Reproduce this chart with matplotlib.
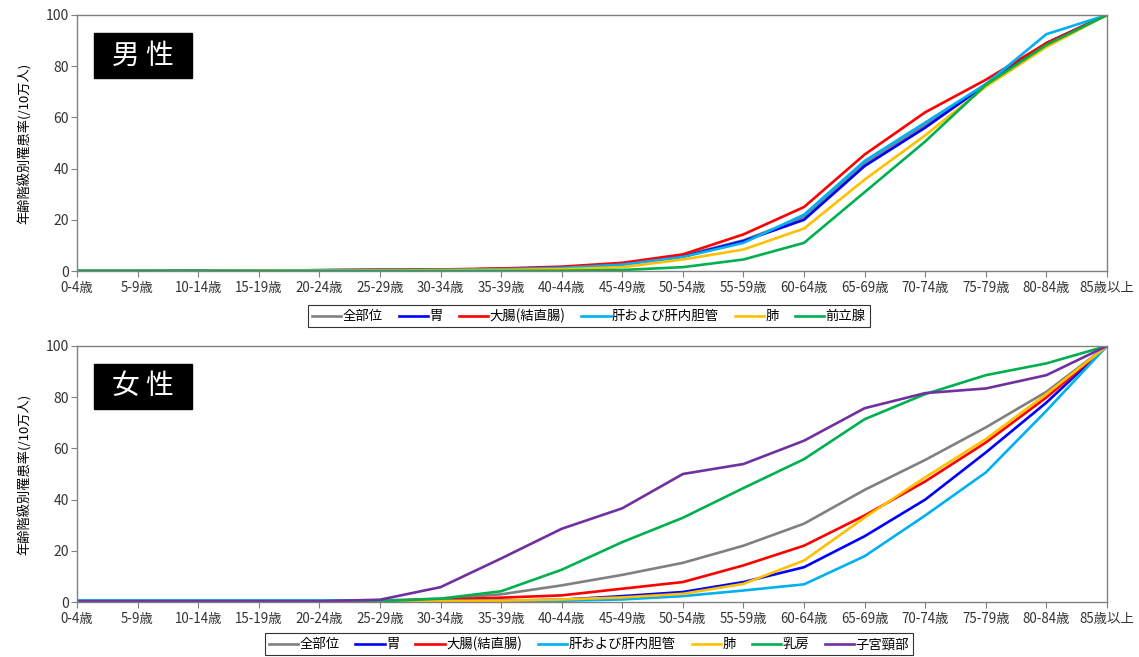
import matplotlib
matplotlib.use('Agg')
from matplotlib import pyplot as plt

plt.rcParams['font.family'] = ['Noto Sans CJK JP', 'DejaVu Sans']

ages = ['0-4歳', '5-9歳', '10-14歳', '15-19歳', '20-24歳', '25-29歳', '30-34歳',
        '35-39歳', '40-44歳', '45-49歳', '50-54歳', '55-59歳', '60-64歳',
        '65-69歳', '70-74歳', '75-79歳', '80-84歳', '85歳以上']

# male
m_all = [0.1, 0.1, 0.1, 0.2, 0.3, 0.4, 0.5, 0.8, 1.4, 2.8, 6.0, 12.0, 21.0, 42.0, 57.0, 73.0, 89.0, 100]
m_stomach = [0.0, 0.0, 0.1, 0.2, 0.3, 0.4, 0.5, 0.8, 1.3, 2.6, 5.6, 11.7, 20.0, 41.0, 56.0, 72.7, 89.0, 100]
m_colon = [0.0, 0.0, 0.1, 0.2, 0.3, 0.5, 0.6, 1.0, 1.7, 3.2, 6.5, 14.3, 25.0, 45.5, 62.0, 74.7, 89.0, 100]
m_liver = [0.1, 0.1, 0.1, 0.2, 0.3, 0.4, 0.5, 0.7, 1.2, 2.5, 5.5, 11.0, 22.0, 43.0, 58.0, 73.0, 92.5, 100]
m_lung = [0.0, 0.0, 0.0, 0.1, 0.1, 0.2, 0.3, 0.4, 0.7, 1.5, 4.5, 8.4, 16.6, 35.7, 53.0, 72.0, 87.5, 100]
m_prostate = [0.0, 0.0, 0.0, 0.0, 0.0, 0.0, 0.0, 0.0, 0.1, 0.4, 1.5, 4.5, 11.0, 30.8, 50.6, 72.7, 88.3, 100]

# female
f_all = [0.4, 0.4, 0.4, 0.4, 0.4, 0.6, 1.3, 3.0, 6.5, 10.6, 15.3, 22.0, 30.6, 43.8, 55.5, 68.2, 82.1, 100]
f_stomach = [0.3, 0.3, 0.3, 0.3, 0.3, 0.3, 0.4, 0.5, 0.9, 2.3, 3.9, 7.8, 13.6, 25.7, 40.0, 58.4, 77.9, 100]
f_colon = [0.3, 0.3, 0.3, 0.3, 0.3, 0.4, 1.0, 1.7, 2.6, 5.2, 7.8, 14.3, 22.0, 33.8, 47.1, 62.3, 79.9, 100]
f_liver = [0.6, 0.6, 0.6, 0.6, 0.6, 0.6, 0.5, 0.5, 0.5, 1.0, 2.3, 4.5, 6.9, 17.9, 33.8, 50.6, 74.7, 100]
f_lung = [0.2, 0.2, 0.2, 0.2, 0.2, 0.2, 0.3, 0.5, 1.0, 1.8, 3.2, 7.1, 16.2, 33.0, 48.7, 63.6, 81.2, 100]
f_breast = [0.3, 0.3, 0.3, 0.3, 0.3, 0.3, 1.3, 4.2, 12.6, 23.4, 32.9, 44.5, 55.8, 71.4, 81.2, 88.6, 93.2, 100]
f_cervix = [0.3, 0.3, 0.3, 0.3, 0.3, 0.9, 5.8, 17.0, 28.6, 36.6, 50.0, 53.9, 63.0, 75.7, 81.6, 83.4, 88.6, 100]

male_names = ['全部位', '胃', '大腸(結直腸)', '肝および肝内胆管', '肺', '前立腺']
female_names = ['全部位', '胃', '大腸(結直腸)', '肝および肝内胆管', '肺', '乳房', '子宮頸部']

male_colors = ['#808080', '#0000ff', '#ff0000', '#00b0f0', '#ffc000', '#00b050']
female_colors = ['#808080', '#0000ff', '#ff0000', '#00b0f0', '#ffc000', '#00b050', '#7030a0']

male_series = [m_all, m_stomach, m_colon, m_liver, m_lung, m_prostate]
female_series = [f_all, f_stomach, f_colon, f_liver, f_lung, f_breast, f_cervix]


def draw_panel(fig, rect, series, names, colors, title, legend_y):
    ax = fig.add_axes(rect)
    x = list(range(len(ages)))
    for vals, name, col in zip(series, names, colors):
        ax.plot(x, vals, color=col, lw=1.9, label=name)
    ax.set_xlim(0, len(ages) - 1)
    ax.set_ylim(0, 100)
    ax.set_yticks([0, 20, 40, 60, 80, 100])
    ax.set_xticks(x)
    ax.set_xticklabels(ages, fontsize=9.6)
    ax.tick_params(axis='y', labelsize=10, length=4, color='#808080', pad=2,
                   labelcolor='#333333')
    ax.tick_params(axis='x', length=4, color='#808080', pad=3, labelcolor='#333333')
    for sp in ax.spines.values():
        sp.set_color('#808080')
        sp.set_linewidth(1.0)
    ax.set_ylabel('年齢階級別罹患率(/10万人)', fontsize=9.5, labelpad=10)
    # black title box
    ax.add_patch(plt.Rectangle((0.0165, 0.754), 0.0952, 0.176, transform=ax.transAxes,
                               facecolor='black', edgecolor='black', zorder=5))
    ax.text(0.064, 0.842, title, transform=ax.transAxes, color='white', fontsize=20,
            ha='center', va='center', zorder=6)
    leg = ax.legend(loc='center', bbox_to_anchor=(0.497, legend_y), ncol=len(names),
                    frameon=True, fancybox=False, fontsize=9.6, handlelength=2.2,
                    handletextpad=0.1, columnspacing=1.2, borderpad=0.3,
                    edgecolor='black')
    leg.get_frame().set_linewidth(0.8)
    return ax


fig = plt.figure(figsize=(11.39, 6.57), dpi=100)
draw_panel(fig, [0.0676, 0.5875, 0.9043, 0.3897], male_series, male_names,
           male_colors, '男 性', -0.176)
draw_panel(fig, [0.0676, 0.0837, 0.9043, 0.3897], female_series, female_names,
           female_colors, '女 性', -0.164)

fig.savefig('out.png', dpi=100)
